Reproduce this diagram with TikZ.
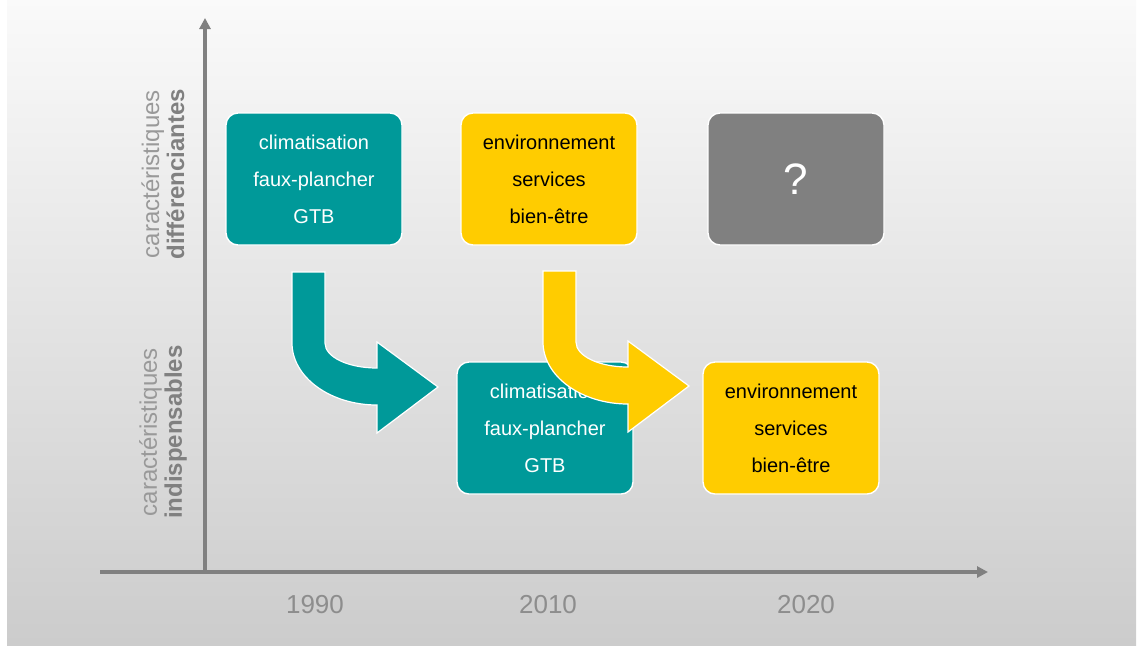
\documentclass[tikz,border=0pt]{standalone}
\usepackage{fontspec}
\setmainfont{Liberation Sans}
\usetikzlibrary{arrows.meta}

\definecolor{tealbox}{HTML}{009999}
\definecolor{yellowbox}{HTML}{FFCC00}
\definecolor{greybox}{HTML}{808080}
\definecolor{axisgrey}{HTML}{808080}
\definecolor{labelgrey}{HTML}{999999}

% thick bent arrow, drawn from the top left corner of its shaft
\tikzset{bendarrow/.pic={
  \path[pic actions] (0,0) -- (33,0) -- (33,71)
    .. controls (33,85) and (56,96) .. (85,96) -- (85,70) -- (146,115)
    -- (85,161) -- (85,133)
    .. controls (38,133) and (0,105) .. (0,71) -- cycle;
}}

\begin{document}
\begin{tikzpicture}[
    x=0.5pt, y=-0.5pt,
    >={Triangle[length=5.5pt,width=5.5pt]},
    box/.style={draw=white, line width=0.7pt, rounded corners=6pt,
                minimum width=88pt, minimum height=66pt, align=center,
                font=\fontsize{10}{18.5}\selectfont},
    axis/.style={->, line width=1.6pt, draw=axisgrey},
    year/.style={font=\fontsize{13}{15}\selectfont, text=axisgrey!90!white},
    side/.style={rotate=90, align=center,
                 font=\fontsize{12}{12.5}\selectfont},
    shapeline/.style={draw=white, line width=0.6pt},
  ]

  \useasboundingbox (0,0) rectangle (1138,645);
  \shade[top color=white!98!black, bottom color=black!20]
    (7,0) rectangle (1136,645);

  % axes
  \coordinate (origin) at (205,572);
  \coordinate (ytop) at (205,18);
  \coordinate (xstart) at (100,572);
  \coordinate (xend) at (988,572);
  \draw[axis] (origin) -- (ytop);
  \draw[axis] (xstart) -- (xend);

  \node[side] (diff) at (163,174)
    {\textcolor{labelgrey}{caractéristiques}\\
     \textcolor{axisgrey}{\textbf{différenciantes}}};
  \node[side] (indisp) at (163,432)
    {\textcolor{labelgrey}{caractéristiques}\\
     \textcolor{axisgrey}{\textbf{indispensables}}};

  \node[year] (y1990) at (315,605) {1990};
  \node[year] (y2010) at (548,605) {2010};
  \node[year] (y2020) at (806,605) {2020};

  % top row
  \node[box, fill=tealbox, text=white] (clim1) at (314,179)
    {climatisation\\faux-plancher\\GTB};
  \node[box, fill=yellowbox] (env1) at (549,179)
    {environnement\\services\\bien-être};
  \node[box, fill=greybox, text=white,
        font=\fontsize{22}{22}\selectfont] (next) at (796,179) {?};

  % bottom row
  \node[box, fill=tealbox, text=white] (clim2) at (545,428)
    {climatisation\\faux-plancher\\GTB};
  \node[box, fill=yellowbox] (env2) at (791,428)
    {environnement\\services\\bien-être};

  \pic[fill=tealbox, shapeline] at (292,272) {bendarrow};
  \pic[fill=yellowbox, shapeline] at (543,271) {bendarrow};

\end{tikzpicture}
\end{document}
